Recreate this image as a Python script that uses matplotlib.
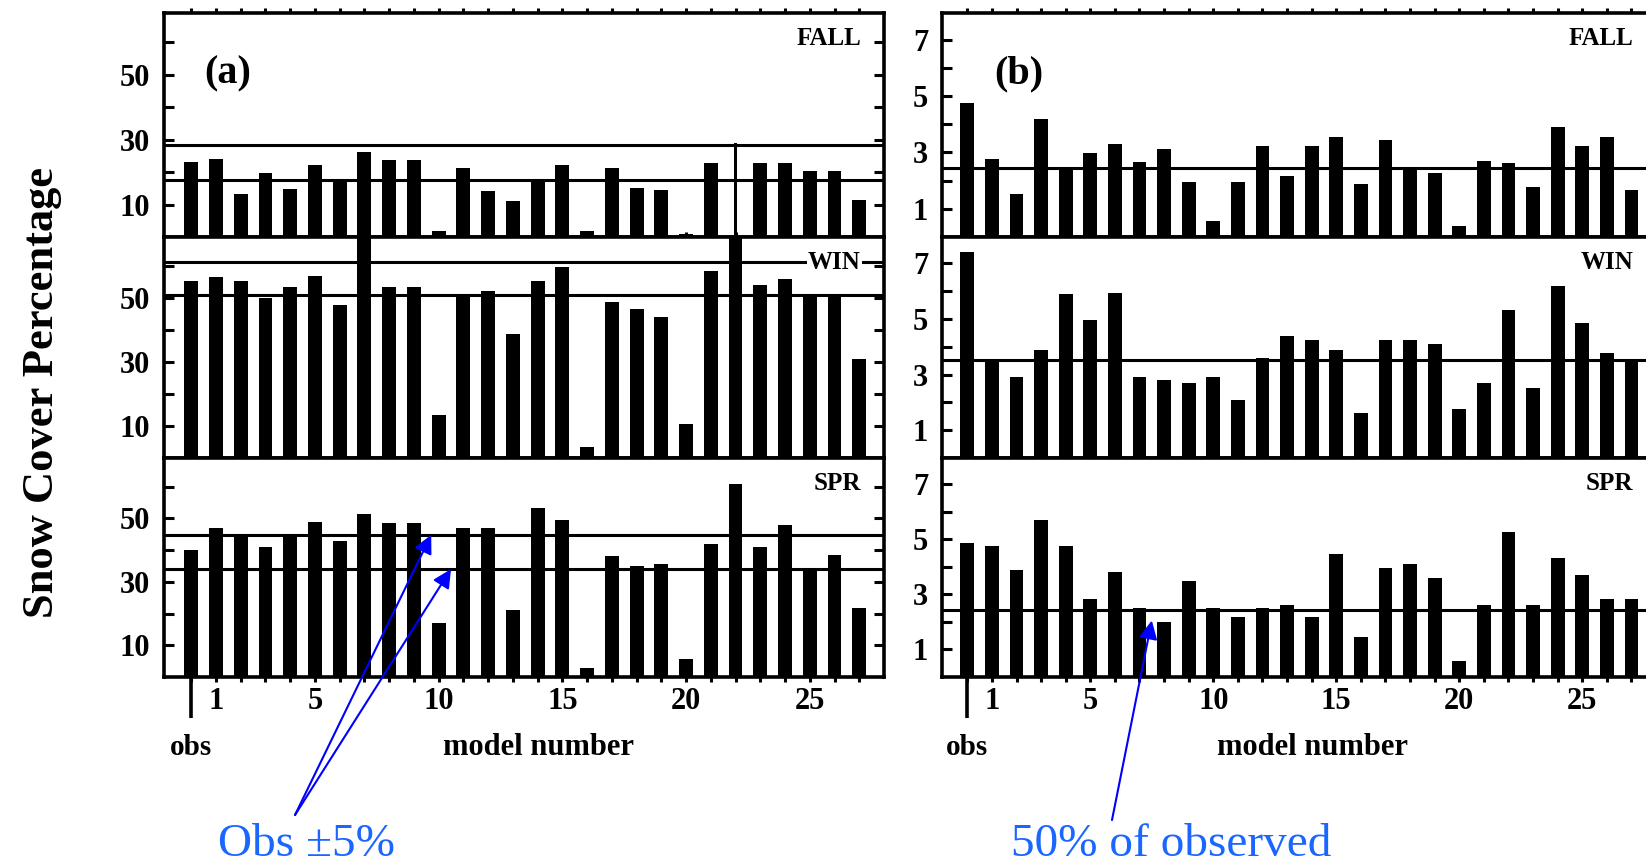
import matplotlib
matplotlib.use('Agg')
import matplotlib.pyplot as plt
import numpy as np

# ---------------- data ----------------
positions = list(range(28))            # 0 = obs, 1..27 = models
xtick_labels = {1: '1', 5: '5', 10: '10', 15: '15', 20: '20', 25: '25'}
seasons = ['FALL', 'WIN', 'SPR']

# panel (a): snow cover percentage
cover_fall = [23.0, 24.0, 13.3, 19.7, 14.8, 22.2, 17.9, 26.1, 23.8, 23.8, 2.0, 21.3, 14.3, 11.0,
              16.9, 22.2, 2.0, 21.3, 15.1, 14.6, 1.0, 22.7, 29.0, 22.7, 22.7, 20.4, 20.4, 11.5]
cover_win = [55.4, 56.4, 55.4, 50.0, 53.3, 56.7, 47.7, 70.0, 53.3, 53.3, 13.4, 51.0, 52.1, 38.7,
             55.4, 59.5, 3.4, 48.8, 46.4, 44.0, 10.6, 58.5, 70.0, 54.1, 56.0, 51.0, 50.5, 30.9]
cover_spr = [40.0, 47.0, 44.8, 41.0, 44.8, 48.7, 42.8, 51.4, 48.4, 48.6, 16.9, 47.0, 47.0, 21.2,
             53.2, 49.5, 2.7, 38.2, 35.0, 35.7, 5.6, 41.9, 60.8, 41.0, 47.8, 33.9, 38.4, 21.7]
band_fall = [28.2, 17.7]   # obs +/- 5%
band_win = [61.3, 51.0]
band_spr = [44.8, 34.0]

# panel (b)
var_fall = [4.76, 2.76, 1.51, 4.19, 2.50, 2.98, 3.30, 2.65, 3.12, 1.94, 0.57, 1.96, 3.24, 2.18,
            3.24, 3.54, 1.88, 3.43, 2.48, 2.26, 0.38, 2.70, 2.62, 1.76, 3.89, 3.24, 3.54, 1.67]
var_win = [7.40, 3.55, 2.91, 3.89, 5.90, 4.96, 5.93, 2.91, 2.82, 2.70, 2.91, 2.09, 3.60, 4.38,
           4.26, 3.89, 1.63, 4.26, 4.26, 4.11, 1.76, 2.70, 5.32, 2.51, 6.17, 4.87, 3.79, 3.55]
var_spr = [4.88, 4.76, 3.90, 5.70, 4.76, 2.84, 3.80, 2.50, 1.99, 3.48, 2.50, 2.16, 2.50, 2.62,
           2.16, 4.45, 1.46, 3.94, 4.10, 3.60, 0.59, 2.62, 5.27, 2.62, 4.33, 3.70, 2.84, 2.84]
half_fall = [2.45]   # 50% of observed
half_win = [3.52]
half_spr = [2.44]

# ---------------- style ----------------
plt.rcParams['font.family'] = ['Liberation Serif', 'DejaVu Serif']
plt.rcParams['font.weight'] = 'bold'

W, H = 1646, 866
fig = plt.figure(figsize=(W / 100, H / 100), dpi=100)
fig.patch.set_facecolor('white')

rows = [(13, 237), (237, 458), (458, 677)]


def fa(l, t, r, b):
    return [l / W, 1 - b / H, (r - l) / W, (b - t) / H]


BLUE_TXT = '#1a66ff'
BLUE_ARR = '#0000ff'


def make_panel(left, right, xlim, ylim, series, bands, yt_major, yt_minor, letter, letter_x):
    axes = []
    for i, (season, vals, band) in enumerate(zip(seasons, series, bands)):
        t, b = rows[i]
        ax = fig.add_axes(fa(left, t, right, b))
        widths = [0.56] * len(positions)
        if letter == '(a)' and season == 'FALL':
            widths[22] = 0.15
        ax.bar(positions, vals, width=widths, color='black', zorder=3)
        for v in band:
            ax.axhline(v, color='black', lw=2.2, zorder=2)
        ax.set_xlim(*xlim)
        ax.set_ylim(*ylim)
        for sp in ax.spines.values():
            sp.set_linewidth(2.6)
        ax.set_yticks(yt_major)
        ax.set_yticks(yt_minor, minor=True)
        ax.tick_params(axis='y', which='both', direction='in', left=True, right=True,
                       length=7, width=2.2, labelsize=22, pad=10)
        ax.set_xticks(positions)
        last = (i == len(seasons) - 1)
        ax.set_xticklabels([xtick_labels.get(p, '') for p in positions] if last else [])
        ax.tick_params(axis='x', which='major', top=True, bottom=last,
                       labeltop=False, labelbottom=last)
        ax.xaxis.set_tick_params(which='major', width=2.2)
        for tk in ax.xaxis.get_major_ticks():
            tk.tick2line.set_markersize(10)
            tk.tick2line.set_marker(3)  # pointing down (inward at top)
            tk.tick1line.set_markersize(13)
            tk.tick1line.set_marker(3)  # pointing down (outward at bottom)
        ax.tick_params(axis='x', labelsize=22, pad=4)
        ax.text(0.968, 0.885, season, transform=ax.transAxes, ha='right', va='center',
                fontsize=18, fontweight='bold', zorder=6,
                bbox=dict(facecolor='white', edgecolor='none', pad=1.0))
        if i == 0:
            ax.text(letter_x, 0.73, letter, transform=ax.transAxes, ha='center', va='center',
                    fontsize=29, fontweight='bold', zorder=6)
        if last:
            h = (b - t)
            ax.plot([0, 0], [0, -41 / h], transform=ax.get_xaxis_transform(),
                    color='black', lw=2.6, clip_on=False, zorder=5, solid_capstyle='butt')
            ax.text(0, -0.32, 'obs', transform=ax.get_xaxis_transform(), ha='center',
                    va='center', fontsize=21, fontweight='bold')
            ax.text(14.05, -0.32, 'model number', transform=ax.get_xaxis_transform(),
                    ha='center', va='center', fontsize=22, fontweight='bold')
        axes.append(ax)
    return axes


axes_a = make_panel(164, 884, (-1.1, 28.0), (0, 69),
                    [cover_fall, cover_win, cover_spr], [band_fall, band_win, band_spr],
                    [10, 30, 50], [20, 40, 60], '(a)', 0.089)
axes_b = make_panel(942, 1656, (-1.03, 28.0), (0, 7.95),
                    [var_fall, var_win, var_spr], [half_fall, half_win, half_spr],
                    [1, 3, 5, 7], [2, 4, 6], '(b)', 0.107)

# y label
fig.text(42 / W, 1 - 393 / H, 'Snow Cover Percentage', rotation=90, ha='center', va='center',
         fontsize=32, fontweight='bold')

# annotations
fig.text(307 / W, 1 - 845 / H, 'Obs ±5%', ha='center', va='center', fontsize=34,
         color=BLUE_TXT, fontweight='normal')
fig.text(1171 / W, 1 - 845 / H, '50% of observed', ha='center', va='center', fontsize=34,
         color=BLUE_TXT, fontweight='normal')

ax_spr_a = axes_a[2]
for xy in [(9.7, band_spr[0]), (10.5, band_spr[1])]:
    ax_spr_a.annotate('', xy=xy, xycoords='data', xytext=(295 / W, 1 - 815 / H),
                      textcoords='figure fraction', annotation_clip=False, zorder=10,
                      arrowprops=dict(arrowstyle='-|>', color=BLUE_ARR, lw=1.5,
                                      mutation_scale=28, shrinkA=0, shrinkB=0))
ax_spr_b = axes_b[2]
ax_spr_b.annotate('', xy=(7.5, 2.05), xycoords='data', xytext=(1112 / W, 1 - 820 / H),
                  textcoords='figure fraction', annotation_clip=False, zorder=10,
                  arrowprops=dict(arrowstyle='-|>', color=BLUE_ARR, lw=1.5,
                                  mutation_scale=28, shrinkA=0, shrinkB=0))

fig.savefig('out.png', dpi=100, facecolor='white')
